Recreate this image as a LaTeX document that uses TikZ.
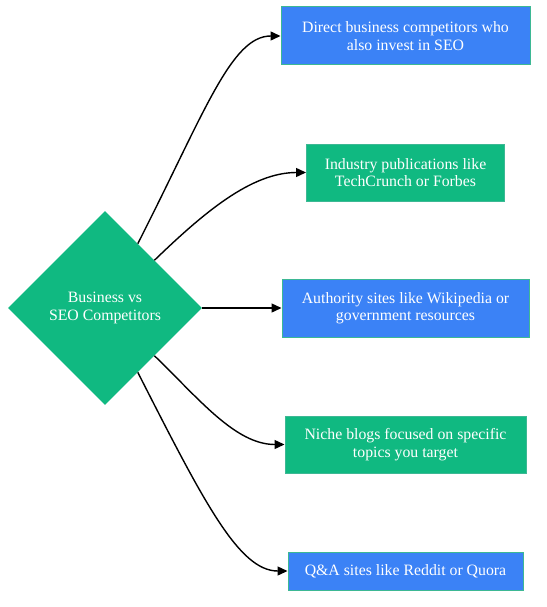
\documentclass[tikz,border=0pt]{standalone}
\usepackage{fontspec}
\setmainfont{Liberation Serif}
\usetikzlibrary{shapes.geometric,arrows.meta}

\definecolor{boxblue}{HTML}{3B82F6}
\definecolor{boxgreen}{HTML}{10B981}
\definecolor{boxline}{HTML}{3DB894}

\tikzset{
    topic/.style={draw=boxline, line width=1pt, text=white, align=center,
        font=\fontsize{15.8}{17.5}\selectfont, inner sep=0pt},
    link/.style={line width=1.4pt, -{Triangle[length=10pt,width=9pt]}}
}

\begin{document}
\begin{tikzpicture}[x=1pt,y=-1pt]
            \useasboundingbox (0,0) rectangle (546,607);

            % Central decision node
            \node [diamond, fill=boxgreen, text=white, align=center, inner sep=0pt,
                minimum width=194pt, minimum height=194pt,
                font=\fontsize{15.8}{17.5}\selectfont] (seo) at (105,308)
                {Business vs\\SEO Competitors};

            % The competitor types
            \foreach \n/\y/\w/\h/\col/\txt in {
            1/36/249/58/boxblue/{Direct business competitors who\\also invest in SEO},
            2/172.5/198/57/boxgreen/{Industry publications like\\TechCrunch or Forbes},
            3/308/247/58/boxblue/{Authority sites like Wikipedia or\\government resources},
            4/444.5/241/57/boxgreen/{Niche blogs focused on specific\\topics you target},
            5/571/235/38/boxblue/{Q\&A sites like Reddit or Quora}} {
            \node [topic, fill=\col, minimum width=\w pt, minimum height=\h pt]
                (b\n) at (405.5,\y) {\txt};
            }

            % Links from the diamond to each box
            \foreach \n/\ang/\lo/\li in {1/63/1.5/0.5, 2/44/1/0.8, 4/-44/1/0.8, 5/-63/1.5/0.5} {
            \draw [link] (seo.\ang) to [out=\ang, in=180, out looseness=\lo, in looseness=\li] (b\n.west);
            }
            \draw [link] (seo.east) -- (b3.west);
\end{tikzpicture}
\end{document}
